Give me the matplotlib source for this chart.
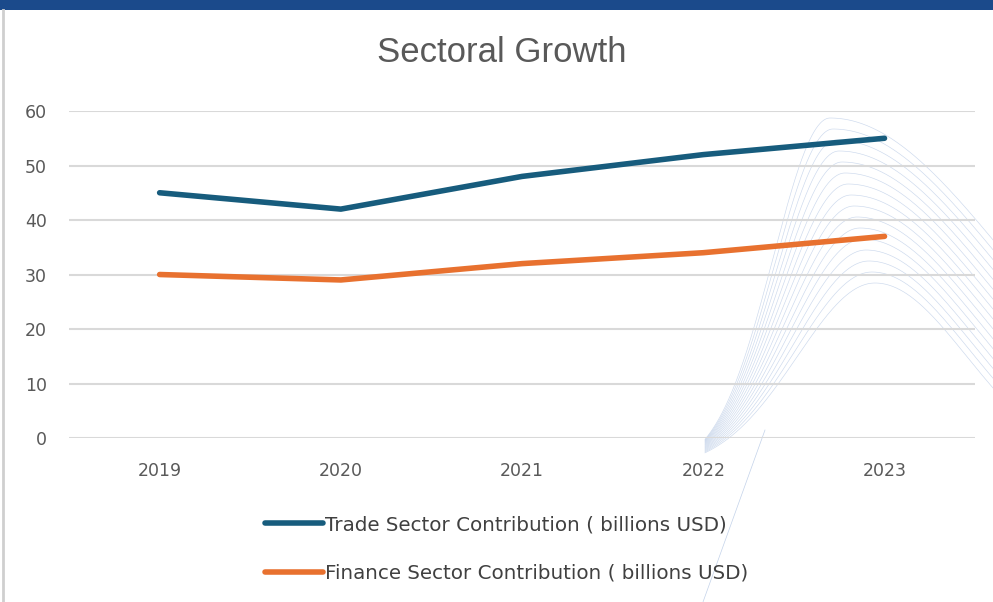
import numpy as np
import matplotlib
matplotlib.use("Agg")
import matplotlib.pyplot as plt

years = ["2019", "2020", "2021", "2022", "2023"]
trade = [45, 42, 48, 52, 55]
finance = [30, 29, 32, 34, 37]
labels = ["Trade Sector Contribution ( billions USD)",
          "Finance Sector Contribution ( billions USD)"]

plt.rcParams["font.family"] = ["DejaVu Sans"]

fig = plt.figure(figsize=(9.93, 6.02), dpi=100)
fig.patch.set_facecolor("white")

# decorative background: blue band on top, grey left edge, faint curves
bg = fig.add_axes([0, 0, 1, 1], zorder=-1)
bg.set_xlim(0, 993)
bg.set_ylim(602, 0)
bg.axis("off")
bg.fill_between([0, 993], 0, 10, color="#1b4a8b", lw=0)
bg.plot([2.5, 2.5], [10, 602], color="#cfcfcf", lw=2)
xs = np.linspace(705, 993, 400)
for k in range(16):
    peak = 118 + k * 11
    center = 830 + k * 3
    wl = 80 + k * 2
    wr = 250 - k * 8
    w = np.where(xs < center, wl, wr)
    ys = 470 - (470 - peak) * np.exp(-((xs - center) / w) ** 2)
    bg.plot(xs, ys, color="#a9bfe0", lw=0.45, alpha=0.6)
bg.plot([765, 703], [430, 602], color="#a9bfe0", lw=0.5, alpha=0.7)

ax = fig.add_axes([0.0695, 0.2724, 0.9125, 0.5432])
ax.set_facecolor("none")
x = np.arange(len(years))
l1, = ax.plot(x, trade, color="#175c7d", lw=4, solid_capstyle="round", zorder=3)
l2, = ax.plot(x, finance, color="#e8712f", lw=4, solid_capstyle="round", zorder=3)

ax.set_xlim(-0.5, len(years) - 0.5)
ax.set_ylim(0, 60)
ax.set_yticks(range(0, 61, 10))
ax.set_xticks(x)
ax.set_xticklabels(years)
ax.grid(axis="y", color="#d9d9d9", lw=1.5)
ax.set_axisbelow(True)
for s in ax.spines.values():
    s.set_visible(False)
ax.tick_params(length=0, colors="#595959", labelsize=12.5)
ax.tick_params(axis="x", pad=17)
ax.tick_params(axis="y", pad=16)

fig.text(0.505, 0.913, "Sectoral Growth", ha="center", va="center",
         fontsize=25, color="#595959", family=["Liberation Sans", "DejaVu Sans"])

fig.legend([l1, l2], labels, loc="center", bbox_to_anchor=(0.51, 0.088),
           ncol=1, frameon=False, fontsize=14.3, handlelength=2.9,
           handletextpad=0.1, labelspacing=1.5, labelcolor="#404040")

fig.savefig("out.png", dpi=100)
